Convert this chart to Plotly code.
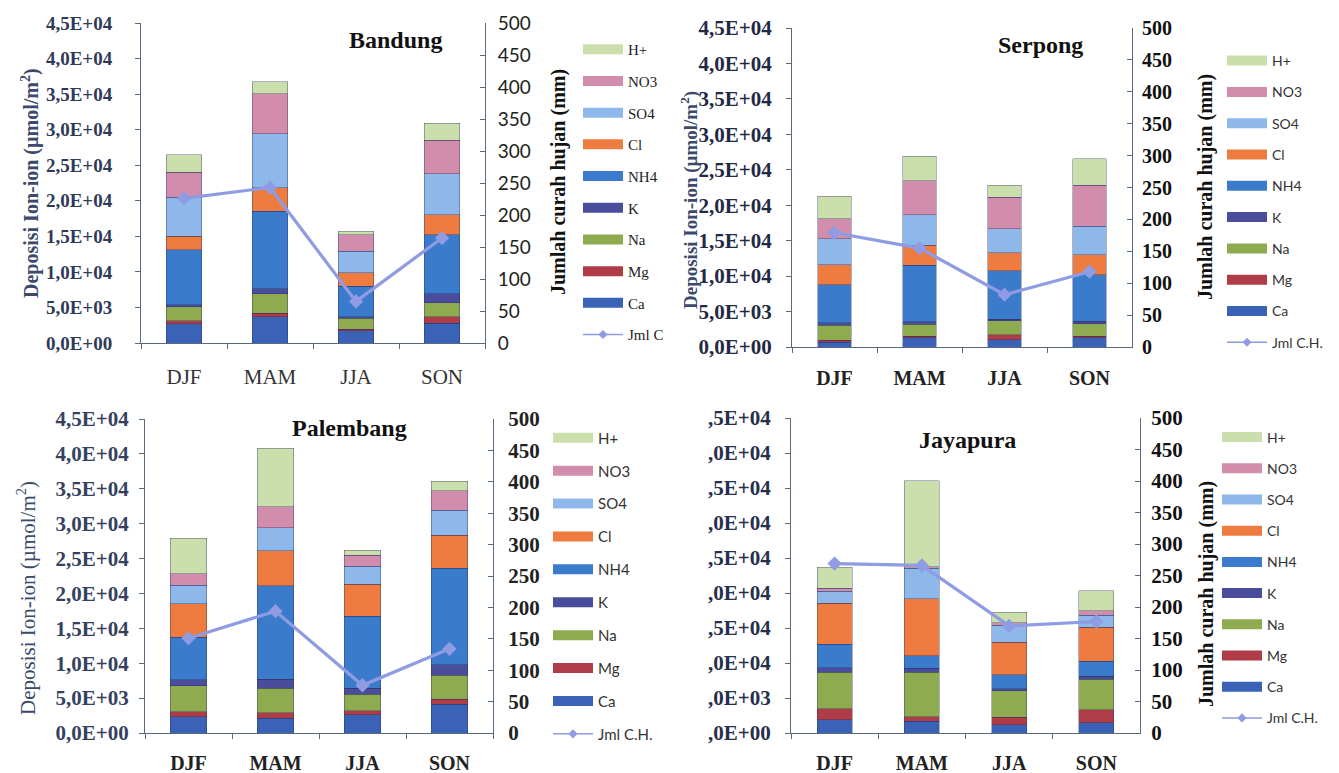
import plotly.graph_objects as go

W, H = 1339, 773

SEASONS = ["DJF", "MAM", "JJA", "SON"]
ION_NAMES = ["Ca", "Mg", "Na", "K", "NH4", "Cl", "SO4", "NO3", "H+"]
ION_COLORS = ["#3a62b6", "#b03c48", "#8fab50", "#4a4c9c", "#3b7bcc",
              "#ee7b3f", "#8fb8ea", "#d28dad", "#cbdfad"]
RAIN_COLOR = "#8f9be2"

LEFT_TICKVALS = [0, 5000, 10000, 15000, 20000, 25000, 30000, 35000, 40000, 45000]
LEFT_TICKTEXT = ["0,0E+00", "5,0E+03", "1,0E+04", "1,5E+04", "2,0E+04",
                 "2,5E+04", "3,0E+04", "3,5E+04", "4,0E+04", "4,5E+04"]
LEFT_TICKTEXT_CUT = [",0E+00", ",0E+03", ",0E+04", ",5E+04", ",0E+04",
                     ",5E+04", ",0E+04", ",5E+04", ",0E+04", ",5E+04"]
RIGHT_TICKVALS = [0, 50, 100, 150, 200, 250, 300, 350, 400, 450, 500]

# Bandung (umol/m2 per season)
BDG_CA = [2700, 3700, 1700, 2750]
BDG_MG = [400, 450, 200, 950]
BDG_NA = [2000, 2800, 1550, 1950]
BDG_K = [300, 700, 250, 1300]
BDG_NH4 = [7700, 10900, 4300, 8300]
BDG_CL = [1900, 3300, 1900, 2800]
BDG_SO4 = [5500, 7600, 3000, 5750]
BDG_NO3 = [3500, 5600, 2350, 4700]
BDG_H = [2500, 1700, 450, 2400]
BDG_RAIN = [226, 243, 65, 164]

# Serpong
SRP_CA = [700, 1300, 1050, 1300]
SRP_MG = [250, 200, 650, 250]
SRP_NA = [2150, 1700, 2000, 1700]
SRP_K = [350, 350, 200, 350]
SRP_NH4 = [5300, 8000, 6850, 6600]
SRP_CL = [2850, 2800, 2550, 2800]
SRP_SO4 = [3700, 4300, 3400, 4050]
SRP_NO3 = [2800, 4800, 4450, 5800]
SRP_H = [3150, 3450, 1700, 3700]
SRP_RAIN = [179, 155, 82, 118]

# Palembang
PLB_CA = [2350, 2100, 2600, 4150]
PLB_MG = [700, 800, 600, 700]
PLB_NA = [3700, 3500, 2350, 3400]
PLB_K = [850, 1300, 850, 1500]
PLB_NH4 = [6100, 13400, 10350, 13850]
PLB_CL = [4800, 5050, 4550, 4750]
PLB_SO4 = [2700, 3300, 2600, 3600]
PLB_NO3 = [1600, 3000, 1600, 2750]
PLB_H = [5100, 8350, 700, 1350]
PLB_RAIN = [151, 194, 76, 134]

# Jayapura
JYP_CA = [1900, 1650, 1200, 1450]
JYP_MG = [1600, 700, 1050, 1900]
JYP_NA = [5150, 6300, 3800, 4300]
JYP_K = [700, 600, 250, 450]
JYP_NH4 = [3300, 1800, 2050, 2150]
JYP_CL = [5900, 8100, 4600, 4850]
JYP_SO4 = [1700, 4400, 2450, 1700]
JYP_NO3 = [400, 200, 350, 700]
JYP_H = [3000, 12300, 1500, 2800]
JYP_RAIN = [269, 266, 170, 177]

SERIF = "Liberation Serif"
SANS = "Lato"
AXIS_TITLE_COLOR = "#3b4a6b"
AXIS_LINE = "#5a6880"


def fx(px):
    return px / W


def fy(py):
    return 1 - py / H


def serif_bold(size, color):
    return dict(family=SERIF, size=size, color=color, weight="bold")


panels = [
    dict(title="Bandung", title_xy=(395, 40),
         ions=[BDG_CA, BDG_MG, BDG_NA, BDG_K, BDG_NH4, BDG_CL, BDG_SO4, BDG_NO3, BDG_H],
         rain=BDG_RAIN, rain_name="Jml C",
         box=(141, 485, 23, 343), barw=0.41,
         left_text=LEFT_TICKTEXT, left_font=serif_bold(19, "#2e3a58"), left_standoff=19,
         right_font=dict(family=SANS, size=19, color="#222"), right_standoff=8,
         x_font=dict(family=SERIF, size=21, color="#333"), x_standoff=15,
         left_title=dict(xy=(30, 183), bold=True, size=20),
         right_title=dict(xy=(558, 182), size=20),
         legend=dict(x=578, y=33, font=dict(family=SERIF, size=15, color="#222"), gap=9.2)),
    dict(title="Serpong", title_xy=(1040, 45),
         ions=[SRP_CA, SRP_MG, SRP_NA, SRP_K, SRP_NH4, SRP_CL, SRP_SO4, SRP_NO3, SRP_H],
         rain=SRP_RAIN, rain_name="Jml C.H.",
         box=(792, 1132, 28, 347), barw=0.39,
         left_text=LEFT_TICKTEXT, left_font=serif_bold(21, "#1f2a44"), left_standoff=10,
         right_font=serif_bold(20, "#111"), right_standoff=5,
         x_font=serif_bold(20, "#222"), x_standoff=13,
         left_title=dict(xy=(689, 200), bold=True, size=19),
         right_title=dict(xy=(1205, 187), size=20),
         legend=dict(x=1222, y=45, font=dict(family=SANS, size=14, color="#333"), gap=10.1)),
    dict(title="Palembang", title_xy=(350, 428),
         ions=[PLB_CA, PLB_MG, PLB_NA, PLB_K, PLB_NH4, PLB_CL, PLB_SO4, PLB_NO3, PLB_H],
         rain=PLB_RAIN, rain_name="Jml C.H.",
         box=(145, 493, 419, 733), barw=0.42,
         left_text=LEFT_TICKTEXT, left_font=serif_bold(21, "#34425f"), left_standoff=6,
         right_font=serif_bold(21, "#222"), right_standoff=10,
         x_font=serif_bold(20, "#222"), x_standoff=12,
         left_title=dict(xy=(26, 598), bold=False, size=21),
         right_title=None,
         legend=dict(x=548, y=421.5, font=dict(family=SANS, size=15, color="#333"), gap=10.4)),
    dict(title="Jayapura", title_xy=(967, 440),
         ions=[JYP_CA, JYP_MG, JYP_NA, JYP_K, JYP_NH4, JYP_CL, JYP_SO4, JYP_NO3, JYP_H],
         rain=JYP_RAIN, rain_name="Jml C.H.",
         box=(791, 1140, 418, 733), barw=0.40,
         left_text=LEFT_TICKTEXT_CUT, left_font=serif_bold(21, "#25304c"), left_standoff=10,
         right_font=serif_bold(21, "#111"), right_standoff=6,
         x_font=serif_bold(20, "#222"), x_standoff=12,
         left_title=None,
         right_title=dict(xy=(1206, 594), size=20),
         legend=dict(x=1217, y=421.5, font=dict(family=SANS, size=14, color="#333"), gap=10)),
]

fig = go.Figure()
layout = dict(
    width=W, height=H, margin=dict(l=0, r=0, t=0, b=0, autoexpand=False),
    paper_bgcolor="white", plot_bgcolor="white",
    barmode="stack", showlegend=True,
)
annotations = []

for i, p in enumerate(panels):
    n = i + 1
    xa = "x" if n == 1 else f"x{n}"
    yl_n, yr_n = 2 * n - 1, 2 * n
    yl = "y" if yl_n == 1 else f"y{yl_n}"
    yr = f"y{yr_n}"
    leg = "legend" if n == 1 else f"legend{n}"
    x0, x1, y0, y1 = p["box"]

    # stacked ion deposition bars
    for name, color, vals in zip(ION_NAMES, ION_COLORS, p["ions"]):
        fig.add_trace(go.Bar(
            x=SEASONS, y=vals, name=name, width=p["barw"],
            marker=dict(color=color, line=dict(color="rgba(35,45,95,0.45)", width=0.8)),
            xaxis=xa, yaxis=yl, showlegend=False, legend=leg,
        ))

    # rainfall line on the secondary axis
    fig.add_trace(go.Scatter(
        x=SEASONS, y=p["rain"], name=p["rain_name"], mode="lines+markers",
        line=dict(color=RAIN_COLOR, width=3.2),
        marker=dict(symbol="diamond", size=11, color=RAIN_COLOR),
        xaxis=xa, yaxis=yr, showlegend=False, legend=leg,
    ))

    # legend entries: wide colour bands, top to bottom H+ ... Ca, then rainfall
    for name, color in reversed(list(zip(ION_NAMES, ION_COLORS))):
        fig.add_trace(go.Scatter(
            x=[None], y=[None], name=name, mode="lines",
            line=dict(color=color, width=10),
            xaxis=xa, yaxis=yl, legend=leg, legendgroup=f"{leg}-{name}",
        ))
    fig.add_trace(go.Scatter(
        x=[None], y=[None], name=p["rain_name"], mode="lines+markers",
        line=dict(color=RAIN_COLOR, width=1.5),
        marker=dict(symbol="diamond", size=7, color=RAIN_COLOR),
        xaxis=xa, yaxis=yr, legend=leg, legendgroup=f"{leg}-rain",
    ))

    xkey = "xaxis" if n == 1 else f"xaxis{n}"
    ylkey = "yaxis" if yl_n == 1 else f"yaxis{yl_n}"
    yrkey = f"yaxis{yr_n}"

    layout[xkey] = dict(
        domain=[fx(x0), fx(x1)], anchor=yl, type="category", automargin=False,
        categoryorder="array", categoryarray=SEASONS, range=[-0.5, 3.5],
        tickson="boundaries", ticks="outside", ticklen=5, tickcolor=AXIS_LINE,
        showline=True, linecolor=AXIS_LINE, linewidth=1, showgrid=False,
        tickfont=p["x_font"], ticklabelstandoff=p["x_standoff"],
    )
    layout[ylkey] = dict(
        domain=[fy(y1), fy(y0)], anchor=xa, range=[0, 45000], automargin=False,
        tickmode="array", tickvals=LEFT_TICKVALS, ticktext=p["left_text"],
        ticks="outside", ticklen=5, tickcolor=AXIS_LINE,
        showline=True, linecolor=AXIS_LINE, linewidth=1,
        showgrid=False, zeroline=False,
        tickfont=p["left_font"], ticklabelstandoff=p["left_standoff"],
    )
    layout[yrkey] = dict(
        overlaying=yl, side="right", anchor=xa, range=[0, 500], automargin=False,
        tickmode="array", tickvals=RIGHT_TICKVALS,
        ticks="inside", ticklen=5, tickcolor=AXIS_LINE,
        showline=True, linecolor=AXIS_LINE, linewidth=1,
        showgrid=False, zeroline=False,
        tickfont=p["right_font"], ticklabelstandoff=p["right_standoff"],
    )

    lg = p["legend"]
    layout[leg] = dict(
        x=fx(lg["x"]), y=fy(lg["y"]), xanchor="left", yanchor="top",
        traceorder="grouped", tracegroupgap=lg["gap"], itemwidth=40,
        font=lg["font"], bgcolor="rgba(0,0,0,0)", borderwidth=0,
    )

    tx, ty = p["title_xy"]
    annotations.append(dict(
        text=f"<b>{p['title']}</b>", x=fx(tx), y=fy(ty), xref="paper", yref="paper",
        showarrow=False, xanchor="center", yanchor="middle",
        font=dict(family=SERIF, size=24, color="#111"),
    ))
    lt = p["left_title"]
    if lt:
        txt = "Deposisi Ion-ion (µmol/m<sup>2</sup>)"
        if lt["bold"]:
            txt = f"<b>{txt}</b>"
        annotations.append(dict(
            text=txt, x=fx(lt["xy"][0]), y=fy(lt["xy"][1]), xref="paper", yref="paper",
            showarrow=False, textangle=-90, xanchor="center", yanchor="middle",
            font=dict(family=SERIF, size=lt["size"], color=AXIS_TITLE_COLOR),
        ))
    rt = p["right_title"]
    if rt:
        annotations.append(dict(
            text="<b>Jumlah curah hujan (mm)</b>", x=fx(rt["xy"][0]), y=fy(rt["xy"][1]),
            xref="paper", yref="paper", showarrow=False, textangle=-90,
            xanchor="center", yanchor="middle",
            font=dict(family=SERIF, size=rt["size"], color="#111"),
        ))

layout["annotations"] = annotations
fig.update_layout(**layout)
fig.write_html("out.html")
